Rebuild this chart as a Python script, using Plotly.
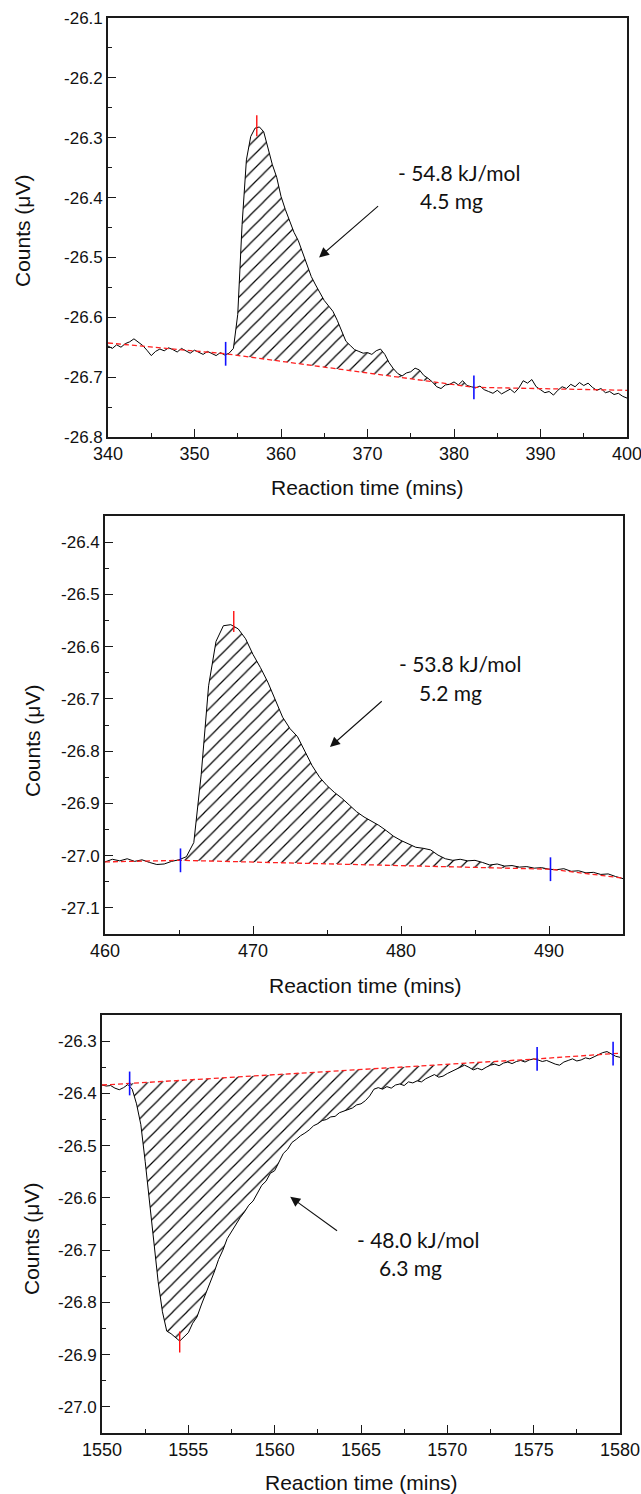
import numpy as np
import plotly.graph_objects as go

W, H = 641, 1494

# ---------------- Panel 1 data ----------------
t1_start, t1_step = 340.0, 0.5
v1 = [
    -26.648, -26.652, -26.646, -26.650, -26.644, -26.641, -26.636, -26.642, -26.647, -26.655,
    -26.664, -26.657, -26.653, -26.656, -26.651, -26.654, -26.658, -26.652, -26.656, -26.660,
    -26.655, -26.659, -26.662, -26.657, -26.661, -26.664, -26.659, -26.663, -26.660, -26.652,
    -26.595, -26.445, -26.337, -26.298, -26.284, -26.282, -26.290, -26.318, -26.345, -26.366,
    -26.398, -26.420, -26.440, -26.458, -26.472, -26.492, -26.512, -26.532, -26.546, -26.560,
    -26.572, -26.581, -26.590, -26.605, -26.622, -26.640, -26.647, -26.654, -26.657, -26.660,
    -26.659, -26.662, -26.656, -26.653, -26.662, -26.676, -26.686, -26.694, -26.698, -26.693,
    -26.691, -26.685, -26.688, -26.697, -26.702, -26.708, -26.716, -26.719, -26.713, -26.712,
    -26.708, -26.713, -26.706, -26.714, -26.716, -26.718, -26.715, -26.721, -26.724, -26.727,
    -26.722, -26.728, -26.724, -26.720, -26.726, -26.718, -26.706, -26.710, -26.704, -26.716,
    -26.721, -26.726, -26.724, -26.730, -26.722, -26.716, -26.719, -26.712, -26.716, -26.709,
    -26.714, -26.710, -26.717, -26.722, -26.719, -26.726, -26.724, -26.729, -26.727, -26.732,
    -26.735,
]
base1_t = [340.0, 353.6, 382.3, 400.0]
base1_v = [-26.643, -26.661, -26.717, -26.722]
limits1_t = [353.6, 382.3]
peak1 = (357.2, -26.280)
label1 = ["- 54.8 kJ/mol", "4.5 mg"]
xticks1 = [340, 350, 360, 370, 380, 390, 400]
yticks1 = [-26.8, -26.7, -26.6, -26.5, -26.4, -26.3, -26.2, -26.1]

# ---------------- Panel 2 data ----------------
t2_start, t2_step = 460.0, 0.5
v2 = [
    -27.012, -27.007, -27.010, -27.006, -27.011, -27.008, -27.013, -27.017, -27.016, -27.011,
    -27.008, -27.002, -26.975, -26.845, -26.675, -26.590, -26.560, -26.558, -26.566, -26.585,
    -26.615, -26.640, -26.668, -26.700, -26.735, -26.757, -26.772, -26.800, -26.828, -26.850,
    -26.866, -26.879, -26.890, -26.903, -26.916, -26.926, -26.934, -26.942, -26.952, -26.963,
    -26.971, -26.978, -26.984, -26.986, -26.989, -26.999, -27.006, -27.009, -27.007, -27.010,
    -27.009, -27.013, -27.018, -27.016, -27.020, -27.019, -27.022, -27.021, -27.024, -27.023,
    -27.026, -27.027, -27.025, -27.030, -27.029, -27.033, -27.032, -27.036, -27.035, -27.040,
    -27.044,
]
base2_t = [460.0, 465.1, 490.1, 495.0]
base2_v = [-27.012, -27.009, -27.026, -27.043]
limits2_t = [465.1, 490.1]
peak2 = (468.7, -26.552)
label2 = ["- 53.8 kJ/mol", "5.2 mg"]
xticks2 = [460, 470, 480, 490]
yticks2 = [-27.1, -27.0, -26.9, -26.8, -26.7, -26.6, -26.5, -26.4]

# ---------------- Panel 3 data ----------------
t3_start, t3_step = 1550.0, 0.25
v3 = [
    -26.384, -26.386, -26.385, -26.390, -26.393, -26.389, -26.383, -26.392,
    -26.420, -26.460, -26.530, -26.610, -26.690, -26.760, -26.818, -26.855,
    -26.860, -26.868, -26.874, -26.866, -26.858, -26.840, -26.828, -26.805,
    -26.785, -26.762, -26.742, -26.718, -26.700, -26.678, -26.664, -26.650,
    -26.638, -26.627, -26.614, -26.606, -26.590, -26.576, -26.568, -26.553,
    -26.548, -26.530, -26.515, -26.507, -26.494, -26.488, -26.481, -26.476,
    -26.470, -26.462, -26.458, -26.452, -26.450, -26.445, -26.444, -26.437,
    -26.434, -26.430, -26.428, -26.422, -26.420, -26.414, -26.405, -26.392,
    -26.389, -26.392, -26.387, -26.390, -26.384, -26.382, -26.385, -26.378,
    -26.380, -26.376, -26.378, -26.372, -26.368, -26.364, -26.369, -26.367,
    -26.362, -26.358, -26.354, -26.349, -26.346, -26.350, -26.355, -26.352,
    -26.355, -26.350, -26.346, -26.344, -26.347, -26.342, -26.340, -26.343,
    -26.339, -26.337, -26.340, -26.336, -26.334, -26.336, -26.339, -26.337,
    -26.341, -26.344, -26.346, -26.340, -26.337, -26.334, -26.338, -26.336,
    -26.332, -26.334, -26.330, -26.326, -26.322, -26.320, -26.325, -26.329,
    -26.331,
]
base3_t = [1550.0, 1551.6, 1575.2, 1580.0]
base3_v = [-26.384, -26.381, -26.334, -26.323]
limits3_t = [1551.6, 1575.2, 1579.6]
peak3 = (1554.5, -26.876)
label3 = ["- 48.0 kJ/mol", "6.3 mg"]
xticks3 = [1550, 1555, 1560, 1565, 1570, 1575, 1580]
yticks3 = [-27.0, -26.9, -26.8, -26.7, -26.6, -26.5, -26.4, -26.3]

x_title = "Reaction time (mins)"
y_title = "Counts (\u03bcV)"

# ---------------- layout geometry (pixels) ----------------
panels = [
    dict(t0=t1_start, dt=t1_step, v=v1, bt=base1_t, bv=base1_v, lim=limits1_t, peak=peak1,
         label=label1, xt=xticks1, yt=yticks1, box=(108, 627, 18, 437), xr=[340, 400], xm=5,
         yr=[-26.8, -26.1], arrow=((364.4, -26.500), (371.4, -26.412)),
         lab_pos=((373.3, -26.358), (375.8, -26.405)),
         ytitle=(22, 231), xtitle=(367, 487)),
    dict(t0=t2_start, dt=t2_step, v=v2, bt=base2_t, bv=base2_v, lim=limits2_t, peak=peak2,
         label=label2, xt=xticks2, yt=yticks2, box=(105, 623, 516, 934), xr=[460, 495], xm=5,
         yr=[-27.15, -26.35], arrow=((475.2, -26.792), (478.8, -26.702)),
         lab_pos=((479.7, -26.633), (481.1, -26.688)),
         ytitle=(33, 741), xtitle=(365, 985)),
    dict(t0=t3_start, dt=t3_step, v=v3, bt=base3_t, bv=base3_v, lim=limits3_t, peak=peak3,
         label=label3, xt=xticks3, yt=yticks3, box=(102, 620, 1015, 1433), xr=[1550, 1580], xm=2.5,
         yr=[-27.05, -26.25], arrow=((1560.9, -26.598), (1563.7, -26.665)),
         lab_pos=((1564.65, -26.679), (1565.9, -26.733)),
         ytitle=(31, 1239), xtitle=(361, 1482)),
]

AX = "#1a1a1a"
fig = go.Figure()
layout = dict(template="none", width=W, height=H, margin=dict(l=0, r=0, t=0, b=0, pad=0),
              paper_bgcolor="white", plot_bgcolor="white", showlegend=False)
annotations = []

for i, p in enumerate(panels):
    n = i + 1
    xa = "x" if n == 1 else f"x{n}"
    ya = "y" if n == 1 else f"y{n}"
    t = np.array([p["t0"] + p["dt"] * k for k in range(len(p["v"]))])
    v = np.array(p["v"])
    bt, bv = p["bt"], p["bv"]
    # hatched area between curve and baseline
    lo, hi = p["lim"][0], p["lim"][1]
    m = (t > lo) & (t < hi)
    blo = float(np.interp(lo, bt, bv))
    bhi = float(np.interp(hi, bt, bv))
    px = [lo] + list(t[m]) + [hi, lo]
    py = [blo] + list(v[m]) + [bhi, blo]
    fig.add_trace(go.Scatter(
        x=px, y=py, xaxis=xa, yaxis=ya, mode="lines", fill="toself",
        fillcolor="rgba(0,0,0,0)",
        fillpattern=dict(shape="/", size=10, solidity=0.12, fgcolor="#000000",
                         bgcolor="rgba(0,0,0,0)"),
        line=dict(width=0, color="rgba(0,0,0,0)"), hoverinfo="skip"))
    # signal
    fig.add_trace(go.Scatter(x=t, y=v, xaxis=xa, yaxis=ya, mode="lines",
                             line=dict(color="black", width=1)))
    # baseline
    fig.add_trace(go.Scatter(x=bt, y=bv, xaxis=xa, yaxis=ya, mode="lines",
                             line=dict(color="#ff2020", width=1.3, dash="5px,3px")))
    # integration limits (blue) and peak (red)
    lx = p["lim"]
    ly = [float(np.interp(a, bt, bv)) for a in lx]
    fig.add_trace(go.Scatter(x=lx, y=ly, xaxis=xa, yaxis=ya, mode="markers",
                             marker=dict(symbol="line-ns", size=17,
                                         line=dict(color="#1010ff", width=1.6))))
    fig.add_trace(go.Scatter(x=[p["peak"][0]], y=[p["peak"][1]], xaxis=xa, yaxis=ya,
                             mode="markers",
                             marker=dict(symbol="line-ns", size=15,
                                         line=dict(color="#ff1010", width=1.4))))

    l, r, top, bot = p["box"]
    common = dict(showline=True, linecolor=AX, linewidth=1.6, mirror=True,
                  ticks="inside", ticklen=8, tickwidth=1.4, tickcolor=AX,
                  showgrid=False, zeroline=False, fixedrange=True, automargin=False,
                  ticklabeloverflow="allow")
    layout["xaxis" if n == 1 else f"xaxis{n}"] = dict(
        common, domain=[l / W, r / W], anchor=ya, range=p["xr"],
        tickmode="array", tickvals=p["xt"], ticktext=[str(a) for a in p["xt"]],
        minor=dict(ticks="inside", ticklen=4, tickwidth=1.4, tickcolor=AX,
                   tick0=p["xr"][0], dtick=p["xm"], showgrid=False),
        tickfont=dict(family="Liberation Sans, Arial", size=18, color="#111"))
    layout["yaxis" if n == 1 else f"yaxis{n}"] = dict(
        common, domain=[1 - bot / H, 1 - top / H], anchor=xa, range=p["yr"],
        tickmode="array", tickvals=p["yt"], ticktext=["%.1f" % a for a in p["yt"]],
        minor=dict(ticks="inside", ticklen=4, tickwidth=1.4, tickcolor=AX,
                   tick0=-26.0, dtick=0.05, showgrid=False),
        tickfont=dict(family="Liberation Sans, Arial", size=17, color="#111"))

    # arrow
    (hx, hy), (tx, ty) = p["arrow"]
    annotations.append(dict(x=hx, y=hy, xref=xa, yref=ya, ax=tx, ay=ty,
                            axref=xa, ayref=ya, text="", showarrow=True,
                            arrowhead=2, arrowsize=1.8, arrowwidth=1.1,
                            arrowcolor="#111"))
    # labels
    for txt, (lxp, lyp) in zip(p["label"], p["lab_pos"]):
        annotations.append(dict(x=lxp, y=lyp, xref=xa, yref=ya, text=txt,
                                showarrow=False, xanchor="left", yanchor="middle",
                                font=dict(family="Lato, Carlito, sans-serif",
                                          size=21, color="#111")))
    # axis titles
    yx, yy = p["ytitle"]
    annotations.append(dict(x=yx / W, y=1 - yy / H, xref="paper", yref="paper",
                            text=y_title, textangle=-90, showarrow=False,
                            xanchor="center", yanchor="middle",
                            font=dict(family="Liberation Sans, Arial", size=21,
                                      color="#111")))
    xx, xy = p["xtitle"]
    annotations.append(dict(x=xx / W, y=1 - xy / H, xref="paper", yref="paper",
                            text=x_title, showarrow=False,
                            xanchor="center", yanchor="middle",
                            font=dict(family="Liberation Sans, Arial", size=21,
                                      color="#111")))

layout["annotations"] = annotations
fig.update_layout(**layout)
fig.write_html(
    "out.html",
    config={"displayModeBar": False},
    post_script="document.body.style.margin='0';document.body.style.padding='0';"
                "document.documentElement.style.overflow='hidden';",
)
